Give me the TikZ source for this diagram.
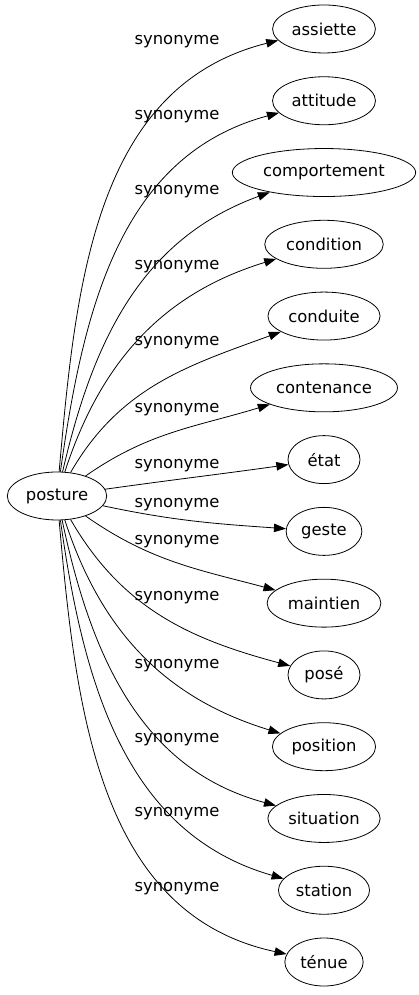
\documentclass[tikz,border=0pt]{standalone}
\usepackage{fontspec}
\setmainfont{DejaVu Sans}
\usetikzlibrary{arrows.meta,shapes.geometric}

\begin{document}
\begin{tikzpicture}[x=1pt,y=1pt,
    word/.style={draw, ellipse, line width=0.8pt, inner xsep=4pt, inner ysep=0pt,
        minimum width=72pt, minimum height=48pt, font=\fontsize{16.4}{18}\selectfont},
    rel/.style={anchor=mid, font=\fontsize{16.4}{18}\selectfont},
    link/.style={-{Triangle[length=12pt,width=8.5pt]}, line width=0.8pt}]
        \useasboundingbox (0,0) rectangle (419,995);

        % Draw the head word
        \node[word] (posture) at (57,499) {posture};

        % Draw the synonyms
        \foreach \nm/\w [count=\i from 0] in {assiette/assiette, attitude/attitude,
            comportement/comportement, condition/condition, conduite/conduite,
            contenance/contenance, etat/état, geste/geste, maintien/maintien,
            pose/posé, position/position, situation/situation, station/station,
            tenue/ténue} {
            \node[word] (\nm) at (324,{966-71.77*\i}) {\w};
        }

        % Draw the links and their labels
        \foreach \nm/\a/\b/\y in {assiette/85/194/953, attitude/82/195/878,
            comportement/77/200/803, condition/72/197/728, conduite/60/200/652,
            contenance/35/197/585, etat/8/188/529, geste/-12/176/490,
            maintien/-35/165/453, pose/-60/165/397, position/-72/163/329,
            situation/-78/165/255, station/-82/164/181, tenue/-85/168/106} {
            \draw[link] (posture) to[out=\a,in=\b] (\nm);
            \node[rel] (lab-\nm) at (177,\y) {synonyme};
        }
\end{tikzpicture}
\end{document}
